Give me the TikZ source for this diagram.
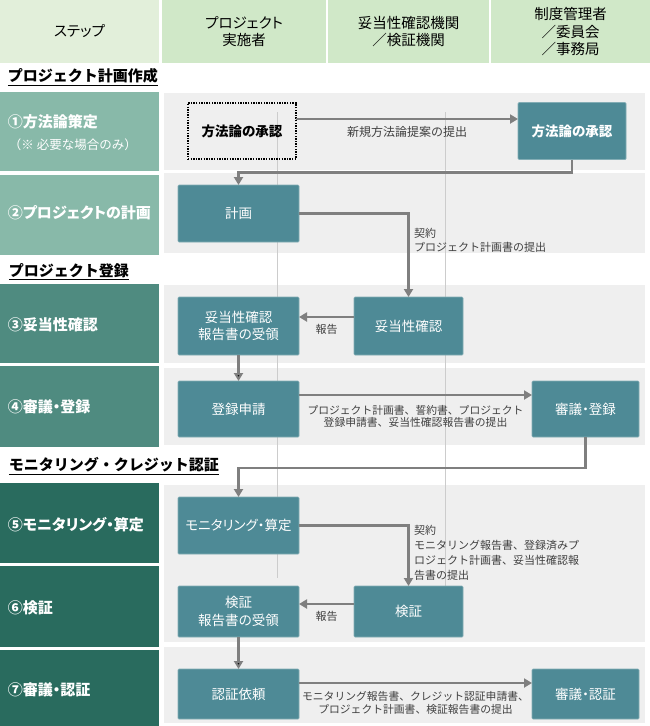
\documentclass[tikz,border=0pt]{standalone}
\usepackage{fontspec}
\setmainfont{Noto Sans CJK JP}
\newfontfamily\pfont[RawFeature=+palt]{Noto Sans CJK JP}
\usetikzlibrary{arrows.meta,positioning,calc}
\definecolor{testa1}{HTML}{E2EFDA}
\definecolor{testa2}{HTML}{D0E8C8}
\definecolor{passo1}{HTML}{88B9A9}
\definecolor{passo2}{HTML}{4F8B80}
\definecolor{passo3}{HTML}{296B5E}
\definecolor{fascia}{HTML}{EFEFEF}
\definecolor{scatola}{HTML}{4E8A96}
\definecolor{grigio}{HTML}{7F7F7F}
\definecolor{guida}{HTML}{CCCCCC}
\definecolor{testo}{HTML}{404040}
\tikzset{main base/.style={inner sep=0pt,outer sep=0pt}, }
\tikzset{main head/.style={main base,fill=testa2,align=center,minimum height=63pt,
    font=\pfont\fontsize{14.5}{17.5}\selectfont}, }
\tikzset{main title/.style={main base,anchor=west,font=\fontsize{15}{18}\selectfont\bfseries}, }
\tikzset{main step/.style={main base,anchor=west,text=white,font=\pfont\fontsize{15}{18}\selectfont\bfseries}, }
\tikzset{main box/.style={main base,rectangle,fill=scatola,draw=scatola!70!white,line width=0.7pt,
    rounded corners=1pt,text=white,align=center,minimum height=57pt,
    font=\pfont\fontsize{13.5}{17.5}\selectfont}, }
\tikzset{main box2/.style={main box,minimum width=121pt}, }
\tikzset{main dot/.style={main base,rectangle,draw=black,line width=1.4pt,
    dash pattern=on 1.4pt off 1.2pt,align=center,font=\pfont\fontsize{13.5}{17.5}\selectfont\bfseries}, }
\tikzset{freccia/.style={-{Triangle[width=9pt,length=8pt]},line width=2.8pt,draw=grigio}}
\tikzset{nota/.style={main base,text=testo,font=\fontsize{11}{14.5}\selectfont}, }
\begin{document}
\begin{tikzpicture}[x=1pt,y=-1pt]
  \useasboundingbox (0,0) rectangle (650,726);
  % intestazione
  \node[main head,fill=testa1,minimum width=159pt] (h1) at (79.5,31.5) {ステップ};
  \node[main head,minimum width=164pt] (h2) at (244,31.5) {プロジェクト\\実施者};
  \node[main head,minimum width=161pt] (h3) at (408.5,31.5) {妥当性確認機関\\／検証機関};
  \node[main head,minimum width=159pt] (h4) at (570.5,31.5) {制度管理者\\／委員会\\／事務局};
  % fasce
  \fill[passo1] (0,92) rectangle (159,171);
  \fill[passo1] (0,175) rectangle (159,255);
  \fill[passo2] (0,284) rectangle (159,363);
  \fill[passo2] (0,366) rectangle (159,447);
  \fill[passo3] (0,483) rectangle (159,563);
  \fill[passo3] (0,566) rectangle (159,647);
  \fill[passo3] (0,650) rectangle (159,726);
  \foreach \a/\b in {93/170,173/253,285/363,368/445,485/642,647/723}
    \fill[fascia] (164,\a) rectangle (645,\b);
  \draw[guida,line width=1pt] (277,112) -- (277,578);
  \draw[guida,line width=1pt] (445,112) -- (445,587);
  % titoli e passi
  \node[main title] (t1) at (8,77) {\underline{プロジェクト計画作成}};
  \node[main title] (t2) at (9,272) {\underline{プロジェクト登録}};
  \node[main title] (t3) at (9,466) {\underline{モニタリング・クレジット認証}};
  \node[main step] (s1) at (8,122) {①方法論策定};
  \node[main step,font=\fontsize{12.5}{14}\selectfont] (s1b) at (9,145) {（※ 必要な場合のみ）};
  \node[main step] (s2) at (8,213) {②プロジェクトの計画};
  \node[main step] (s3) at (8,325) {③妥当性確認};
  \node[main step] (s4) at (8,407) {④審議・登録};
  \node[main step] (s5) at (8,525) {⑤モニタリング・算定};
  \node[main step] (s6) at (8,608) {⑥検証};
  \node[main step] (s7) at (8,690) {⑦審議・認証};
  % scatole
  \node[main dot,minimum width=108pt,minimum height=56pt] (1) at (242,131) {方法論の承認};
  \node[main box,minimum width=108pt,font=\pfont\fontsize{13.5}{17.5}\selectfont\bfseries] (2) [right=222pt of 1] {方法論の承認};
  \node[main box2] (3) at (238.5,213.5) {計画};
  \node[main box2,minimum height=58pt] (4) [below=55pt of 3] {妥当性確認\\報告書の受領};
  \node[main box,minimum width=109pt,minimum height=58pt] (5) [right=55pt of 4] {妥当性確認};
  \node[main box2,minimum height=56pt] (6) [below=26pt of 4] {登録申請};
  \node[main box,minimum width=107pt,minimum height=56pt] (7) [right=233pt of 6] {審議・登録};
  \node[main box2] (8) [below=60pt of 6] {モニタリング・算定};
  \node[main box2,minimum height=51pt] (9) [below=32pt of 8] {検証\\報告書の受領};
  \node[main box,minimum width=109pt,minimum height=51pt] (10) [right=55pt of 9] {検証};
  \node[main box2,minimum height=50pt] (11) [below=32pt of 9] {認証依頼};
  \node[main box,minimum width=107pt,minimum height=50pt] (12) [right=233pt of 11] {審議・認証};
  % frecce
  \draw[freccia] ([yshift=12pt]1.east) -- ([yshift=12pt]1.east -| 2.west)
    node[nota,midway,below=7pt,font=\fontsize{12}{14}\selectfont] {新規方法論提案の提出};
  \draw[freccia] (2.south) -- ++(0,13) -| (3.north);
  \draw[freccia] (3.east) -| (5.north);
  \node[nota,anchor=north west,align=left] (n1) at (414,228) {契約\\プロジェクト計画書の提出};
  \draw[freccia] ([yshift=9pt]5.west) -- ([yshift=9pt]5.west -| 4.east)
    node[nota,midway,below=7pt] {報告};
  \draw[freccia] ([yshift=14pt]6.east) -- ([yshift=14pt]6.east -| 7.west)
    node[nota,midway,below=10pt,align=center,font=\fontsize{10.8}{12.5}\selectfont]
    {プロジェクト計画書、誓約書、プロジェクト\\登録申請書、妥当性確認報告書の提出};
  \draw[freccia] (7.south) -- ++(0,31) -| (8.north);
  \draw[freccia] (8.east) -| (10.north);
  \node[nota,anchor=north west,align=left,font=\fontsize{11}{15}\selectfont] (n2) at (414,525)
    {契約\\モニタリング報告書、登録済みプ\\ロジェクト計画書、妥当性確認報\\告書の提出};
  \draw[freccia] ([yshift=7.5pt]10.west) -- ([yshift=7.5pt]10.west -| 9.east)
    node[nota,midway,below=7pt] {報告};
  \draw[freccia] ([yshift=11pt]11.east) -- ([yshift=11pt]11.east -| 12.west)
    node[nota,midway,below=8pt,align=center,font=\fontsize{10.8}{13}\selectfont]
    {モニタリング報告書、クレジット認証申請書、\\プロジェクト計画書、検証報告書の提出};
  \foreach \x/\y in {4/6,9/11}
    \path[freccia] (\x) edge node {} (\y);
  %
\end{tikzpicture}
\end{document}
